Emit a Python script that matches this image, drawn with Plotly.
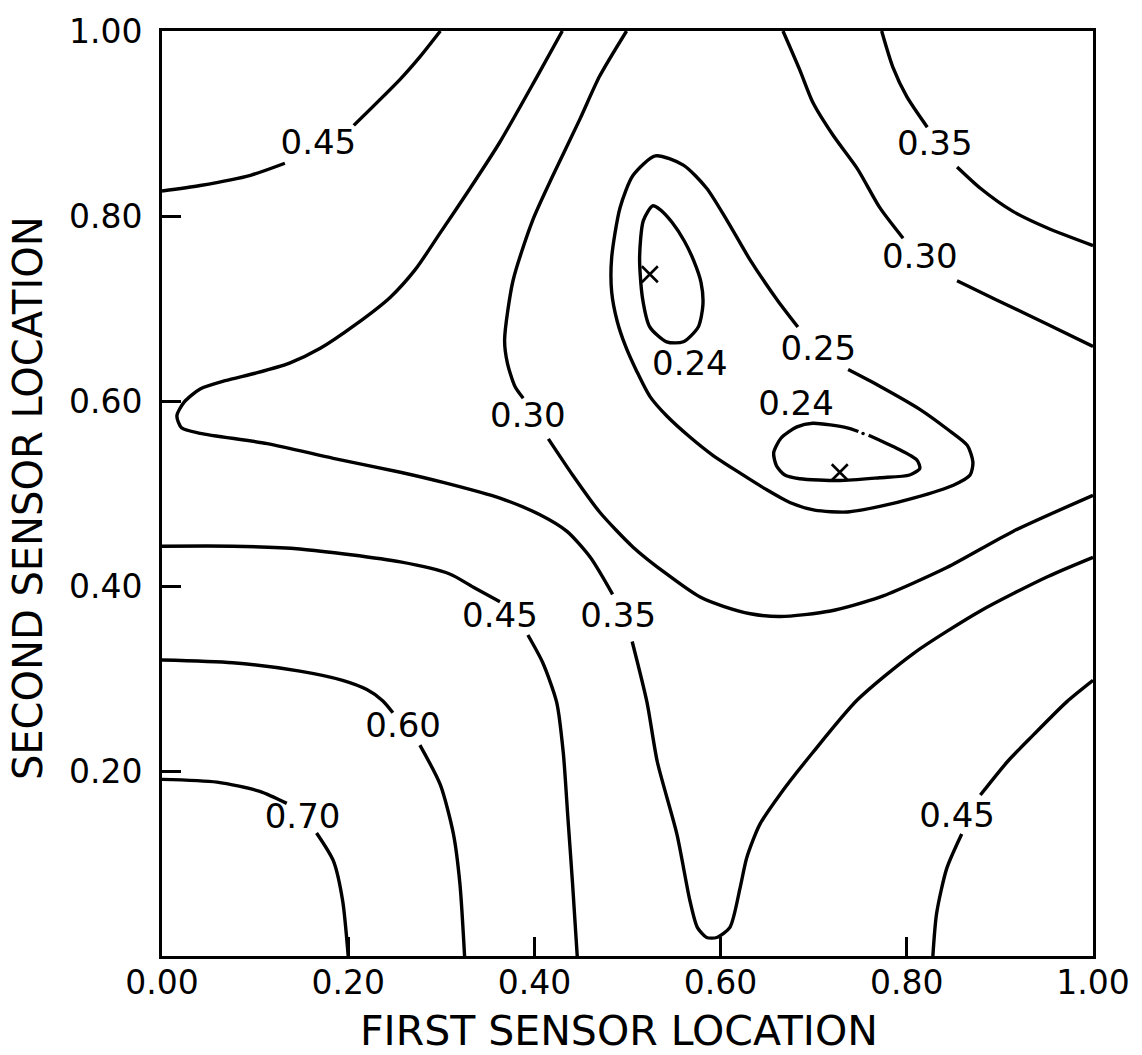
import plotly.graph_objects as go

# Tick positions and labels
X_TICK_VALS = [0.0, 0.2, 0.4, 0.6, 0.8, 1.0]
X_TICK_TEXT = ["0.00", "0.20", "0.40", "0.60", "0.80", "1.00"]
Y_TICK_VALS = [0.2, 0.4, 0.6, 0.8, 1.0]
Y_TICK_TEXT = ["0.20", "0.40", "0.60", "0.80", "1.00"]

# Hand-traced contour lines (first sensor location, second sensor location).
# None marks the gap left for the contour's value label.
C45_UL_X = [0.000, 0.041, 0.095, 0.132, None, 0.206, 0.256, 0.277, 0.299]
C45_UL_Y = [0.827, 0.833, 0.844, 0.857, None, 0.898, 0.948, 0.972, 1.000]

C35_MAIN_X = [0.430, 0.403, 0.363, 0.331, 0.299, 0.272, 0.245, 0.207, 0.170, 0.137,
              0.100, 0.068, 0.041, 0.024, 0.016, 0.021, 0.041, 0.113, 0.184, 0.256,
              0.302, 0.363, 0.406, 0.435, 0.460, 0.484, None,
              0.505, 0.521, 0.532, 0.553, 0.567, 0.575, 0.585, 0.596, 0.610, 0.621,
              0.628, 0.642, 0.664, 0.699, 0.747, 0.807, 0.879, 0.951, 1.000]
C35_MAIN_Y = [1.000, 0.951, 0.880, 0.830, 0.782, 0.742, 0.712, 0.682, 0.657, 0.641,
              0.630, 0.622, 0.613, 0.599, 0.584, 0.571, 0.565, 0.554, 0.538, 0.523,
              0.512, 0.495, 0.477, 0.459, 0.431, 0.391, None,
              0.340, 0.274, 0.210, 0.132, 0.060, 0.031, 0.020, 0.020, 0.031, 0.074,
              0.106, 0.142, 0.175, 0.220, 0.277, 0.327, 0.373, 0.410, 0.431]

C30_MAIN_X = [0.499, 0.470, 0.449, 0.420, 0.398, 0.377, 0.368, 0.371, 0.379, 0.388, None,
              0.415, 0.441, 0.470, 0.506, 0.542, 0.578, 0.603, 0.632, 0.664, 0.718,
              0.771, 0.843, 0.914, 1.000]
C30_MAIN_Y = [1.000, 0.951, 0.905, 0.844, 0.795, 0.730, 0.666, 0.641, 0.616, 0.603, None,
              0.559, 0.520, 0.480, 0.442, 0.413, 0.388, 0.378, 0.370, 0.367, 0.373,
              0.388, 0.420, 0.459, 0.498]

C25_LOOP_X = [0.737, 0.771, 0.814, 0.843, 0.865, 0.871, 0.868, 0.850, 0.807, 0.771,
              0.736, 0.701, 0.675, 0.648, 0.621, 0.592, 0.567, 0.542, 0.524, 0.510,
              0.498, 0.489, 0.483, 0.483, 0.492, 0.506, 0.530, 0.560, 0.585, 0.607,
              0.632, 0.661, 0.683]
C25_LOOP_Y = [0.634, 0.616, 0.591, 0.570, 0.552, 0.534, 0.520, 0.509, 0.495, 0.486,
              0.480, 0.482, 0.490, 0.505, 0.522, 0.541, 0.561, 0.584, 0.605, 0.632,
              0.659, 0.686, 0.718, 0.755, 0.809, 0.844, 0.865, 0.855, 0.830, 0.795,
              0.752, 0.709, 0.680]

C24_UPPER_X = [0.527, 0.517, 0.513, 0.516, 0.524, 0.542, 0.560, 0.576, 0.581, 0.579,
               0.571, 0.561, 0.548, 0.535, 0.527]
C24_UPPER_Y = [0.811, 0.795, 0.755, 0.712, 0.680, 0.664, 0.664, 0.680, 0.704, 0.728,
               0.752, 0.773, 0.793, 0.807, 0.811]

C24_LOWER_X = [0.759, 0.789, 0.811, 0.814, 0.803, 0.771, 0.728, 0.685, 0.669, 0.660,
               0.657, 0.665, 0.682, 0.699, 0.736, 0.748]
C24_LOWER_Y = [0.563, 0.549, 0.536, 0.527, 0.520, 0.517, 0.514, 0.516, 0.520, 0.530,
               0.544, 0.560, 0.572, 0.576, 0.571, 0.567]
C24_DOT_X = [0.753]
C24_DOT_Y = [0.565]

C30_UR_X = [0.667, 0.685, 0.699, 0.721, 0.747, 0.771, 0.796, None, 0.854, 0.897, 0.951, 1.000]
C30_UR_Y = [1.000, 0.958, 0.923, 0.887, 0.851, 0.809, 0.776, None, 0.730, 0.709, 0.683, 0.659]

C35_UR_X = [0.773, 0.785, 0.800, 0.822, None, 0.854, 0.879, 0.914, 0.951, 1.000]
C35_UR_Y = [1.000, 0.961, 0.929, 0.896, None, 0.853, 0.830, 0.805, 0.787, 0.768]

C45_LL_X = [0.000, 0.076, 0.148, 0.256, 0.309, 0.334, 0.363, None,
            0.393, 0.409, 0.424, 0.431, 0.436, 0.441, 0.446]
C45_LL_Y = [0.443, 0.443, 0.440, 0.426, 0.413, 0.399, 0.383, None,
            0.347, 0.317, 0.274, 0.220, 0.149, 0.078, 0.000]

C60_X = [0.000, 0.076, 0.148, 0.194, 0.220, 0.237, 0.248, None, 0.277, 0.299, 0.313, 0.320, 0.325]
C60_Y = [0.320, 0.317, 0.308, 0.298, 0.288, 0.276, 0.263, None, 0.228, 0.185, 0.132, 0.078, 0.000]

C70_X = [0.000, 0.059, 0.105, 0.134, None, 0.166, 0.184, 0.194, 0.200]
C70_Y = [0.191, 0.188, 0.178, 0.165, None, 0.133, 0.103, 0.060, 0.000]

C45_LR_X = [0.828, 0.832, 0.843, 0.859, None, 0.879, 0.908, 0.936, 0.972, 1.000]
C45_LR_Y = [0.000, 0.046, 0.095, 0.132, None, 0.174, 0.210, 0.239, 0.275, 0.298]

# Contour value labels
LABEL_TEXT = ["0.45", "0.35", "0.30", "0.25", "0.24", "0.24",
              "0.30", "0.35", "0.45", "0.60", "0.70", "0.45"]
LABEL_X = [0.168, 0.490, 0.393, 0.705, 0.567, 0.681, 0.814, 0.830, 0.363, 0.259, 0.151, 0.854]
LABEL_Y = [0.876, 0.365, 0.581, 0.653, 0.637, 0.594, 0.753, 0.875, 0.365, 0.246, 0.148, 0.149]

# Locations of the two minima
MIN_X = [0.524, 0.728]
MIN_Y = [0.737, 0.523]

FONT = "DejaVu Sans"
INK = "black"

fig = go.Figure()

contours = [
    (C45_UL_X, C45_UL_Y), (C35_MAIN_X, C35_MAIN_Y), (C30_MAIN_X, C30_MAIN_Y),
    (C25_LOOP_X, C25_LOOP_Y), (C24_UPPER_X, C24_UPPER_Y), (C24_LOWER_X, C24_LOWER_Y),
    (C30_UR_X, C30_UR_Y), (C35_UR_X, C35_UR_Y), (C45_LL_X, C45_LL_Y),
    (C60_X, C60_Y), (C70_X, C70_Y), (C45_LR_X, C45_LR_Y),
]
for xs, ys in contours:
    fig.add_trace(go.Scatter(
        x=xs, y=ys, mode="lines",
        line=dict(color=INK, width=3.4, shape="spline", smoothing=0.7),
        connectgaps=False, hoverinfo="skip", showlegend=False,
    ))

fig.add_trace(go.Scatter(
    x=C24_DOT_X, y=C24_DOT_Y, mode="markers",
    marker=dict(color=INK, size=3.5), hoverinfo="skip", showlegend=False,
))

fig.add_trace(go.Scatter(
    x=MIN_X, y=MIN_Y, mode="markers",
    marker=dict(symbol="x-thin", size=16, line=dict(color=INK, width=2.6)),
    hoverinfo="skip", showlegend=False,
))

fig.add_trace(go.Scatter(
    x=LABEL_X, y=LABEL_Y, mode="text", text=LABEL_TEXT,
    textposition="middle center",
    textfont=dict(family=FONT, size=34, color=INK),
    hoverinfo="skip", showlegend=False,
))

axis_common = dict(
    range=[0, 1],
    tickmode="array",
    ticks="inside",
    ticklen=19,
    tickwidth=3,
    tickcolor=INK,
    showline=True,
    linecolor=INK,
    linewidth=3,
    mirror=True,
    showgrid=False,
    zeroline=False,
    tickfont=dict(family=FONT, size=33, color=INK),
    fixedrange=True,
)

fig.update_layout(
    width=1142,
    height=1055,
    margin=dict(l=162, r=49, t=21, b=99),
    paper_bgcolor="white",
    plot_bgcolor="white",
    xaxis=dict(**axis_common, tickvals=X_TICK_VALS, ticktext=X_TICK_TEXT,
               ticklabelstandoff=-5),
    yaxis=dict(**axis_common, tickvals=Y_TICK_VALS, ticktext=Y_TICK_TEXT,
               ticklabelstandoff=10),
    annotations=[
        dict(text="FIRST SENSOR LOCATION", xref="paper", yref="paper",
             x=0.491, y=-0.081, xanchor="center", yanchor="middle", showarrow=False,
             font=dict(family=FONT, size=41, color=INK)),
        dict(text="SECOND SENSOR LOCATION", xref="paper", yref="paper",
             x=-0.144, y=0.495, xanchor="center", yanchor="middle", showarrow=False,
             textangle=-90, font=dict(family=FONT, size=40, color=INK)),
    ],
)

fig.write_html("out.html")
